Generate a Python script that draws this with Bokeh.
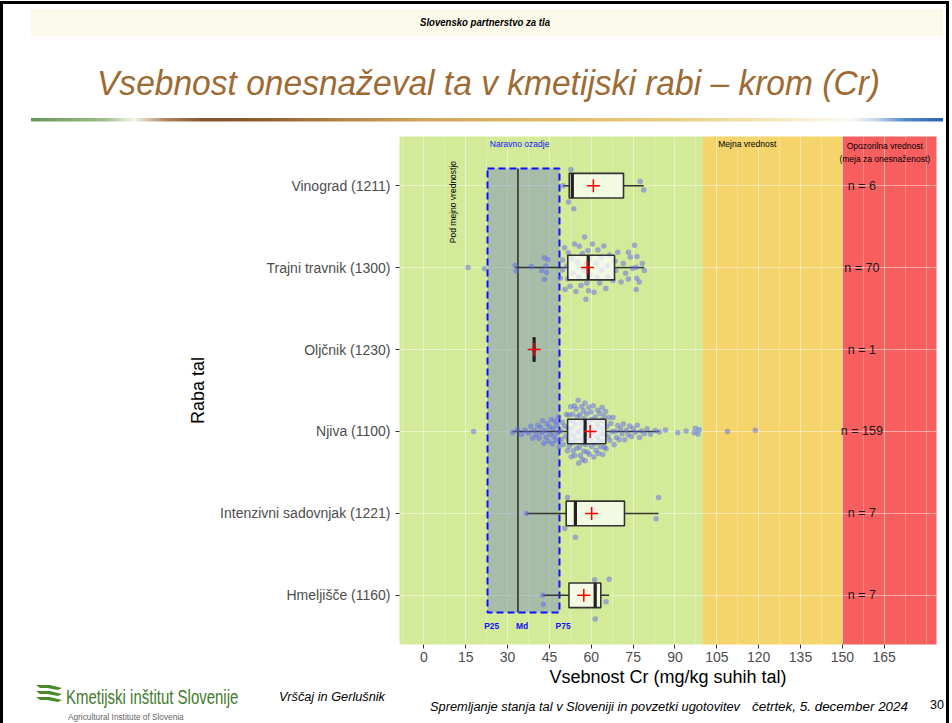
import numpy as np
from bokeh.plotting import figure
from bokeh.layouts import column, row
from bokeh.models import FixedTicker, Range1d, Div
from bokeh.core.properties import value
from bokeh.embed import file_html
from bokeh.resources import INLINE

# ---------------- data ----------------
categories = ["Hmeljišče (1160)", "Intenzivni sadovnjak (1221)", "Njiva (1100)",
              "Oljčnik (1230)", "Trajni travnik (1300)", "Vinograd (1211)"]

vals_hmeljisce = [42.6, 42.8, 61.2, 61.4, 61.5, 65.3, 66.4]
vals_sadovnjak = [36.7, 50.5, 51.5, 54.3, 60.6, 83.2, 84.1]
vals_njiva = [17.8, 31.8, 33.5, 35.0, 36.2, 37.5, 38.3, 39.0, 39.6, 40.2,
              40.8, 41.3, 41.8, 42.2, 42.6, 43.0, 43.4, 43.8, 44.2, 44.6,
              45.0, 45.3, 45.6, 46.0, 46.3, 46.6, 47.0, 47.3, 47.6, 48.0,
              48.3, 48.6, 49.0, 49.3, 49.6, 50.0, 50.4, 50.8, 51.1, 51.4,
              51.6, 51.8, 52.0, 52.1, 52.3, 52.5, 52.6, 52.8, 53.0, 53.1,
              53.3, 53.5, 53.6, 53.8, 54.0, 54.1, 54.3, 54.5, 54.6, 54.8,
              55.0, 55.1, 55.3, 55.5, 55.6, 55.8, 56.0, 56.1, 56.3, 56.5,
              56.6, 56.8, 57.0, 57.1, 57.2, 57.3, 57.4, 57.5, 57.7, 57.8,
              57.9, 58.1, 58.3, 58.5, 58.7, 58.9, 59.1, 59.3, 59.5, 59.7,
              59.9, 60.1, 60.3, 60.5, 60.7, 60.9, 61.1, 61.3, 61.5, 61.7,
              61.9, 62.1, 62.3, 62.5, 62.7, 62.9, 63.1, 63.3, 63.5, 63.7,
              63.9, 64.1, 64.3, 64.5, 64.6, 64.7, 64.8, 64.9, 65.1, 65.3,
              65.6, 66.0, 66.3, 66.7, 67.0, 67.4, 67.8, 68.2, 68.6, 69.0,
              69.5, 70.0, 70.5, 71.0, 71.5, 72.0, 72.6, 73.2, 73.8, 74.4,
              75.0, 75.8, 76.5, 77.3, 78.0, 79.0, 80.0, 81.2, 82.9, 84.4,
              86.6, 91.0, 94.0, 96.9, 97.3, 98.2, 98.7, 108.8, 118.8]
vals_oljcnik = [39.5]
vals_travnik = [15.8, 21.7, 32.7, 33.0, 38.5, 42.2, 43.2, 43.2, 43.7, 44.0,
                44.4, 48.9, 49.7, 49.7, 50.4, 50.6, 51.3, 51.5, 51.8, 52.4,
                53.0, 53.4, 54.0, 54.5, 55.0, 55.4, 55.7, 56.3, 56.8, 57.2,
                57.6, 58.1, 58.1, 58.4, 58.8, 59.0, 59.4, 59.6, 60.4, 61.0,
                61.6, 62.0, 62.4, 63.0, 63.5, 63.8, 64.5, 65.2, 65.9, 65.9,
                66.5, 67.8, 68.5, 68.8, 69.5, 70.7, 71.5, 72.3, 73.3, 73.3,
                74.0, 74.8, 75.5, 76.1, 76.1, 76.3, 76.4, 77.2, 78.3, 79.0]
vals_vinograd = [49.9, 51.9, 52.7, 53.7, 77.5, 78.8]

group_values = [vals_hmeljisce, vals_sadovnjak, vals_njiva, vals_oljcnik, vals_travnik, vals_vinograd]

# natural background (P25, Md, P75) and limit values
bg_p25, bg_md, bg_p75 = 22.8, 33.7, 48.6
bg_labels = ["P25", "Md", "P75"]
mejna_vrednost = 100
opozorilna_vrednost = 150
x_ticks = [0, 15, 30, 45, 60, 75, 90, 105, 120, 135, 150, 165]

# ---------------- helpers ----------------
def vdc(n):
    out = []
    for i in range(1, n + 1):
        v, denom, k = 0.0, 1.0, i
        while k:
            k, r = divmod(k, 2)
            denom *= 2
            v += r / denom
        out.append(v)
    return np.array(out)

def quasirandom(vals, width=0.4, adjust=0.5):
    v = np.asarray(vals, float)
    n = len(v)
    if n < 2:
        return np.zeros(n)
    sd = v.std(ddof=1)
    iqr = np.subtract(*np.percentile(v, [75, 25]))
    lo = min(sd, iqr / 1.34) if iqr > 0 else sd
    bw = 0.9 * lo * n ** (-0.2) * adjust
    grid = np.linspace(v.min() - 3 * bw, v.max() + 3 * bw, 512)
    dens = lambda x: np.exp(-0.5 * ((x[:, None] - v[None, :]) / bw) ** 2).sum(1)
    d = dens(v) / dens(grid).max()
    order = np.argsort(v, kind="stable")
    rank = np.empty(n, int)
    rank[order] = np.arange(n)
    q = vdc(n)[rank]
    return (q - 0.5) * 2 * d * width

W = 952
FONT = "Liberation Sans"
DIV_STYLE = {"margin": "0", "padding": "0", "overflow": "visible"}
BL, BR = 3, 946          # slide frame: left strip 0..3, right strip 946..949

# ---------------- header (slide decoration) ----------------
HEAD_H = 128
grad_stops = [(31, "#64965a"), (105, "#a0be8c"), (134, "#f4f4ee"), (165, "#af875f"),
              (205, "#80542d"), (250, "#875a30"), (340, "#b28448"), (420, "#cda55c"),
              (560, "#debc69"), (680, "#e8cf84"), (790, "#f6ecc8"), (850, "#fafaf6"),
              (875, "#c8d8ec"), (905, "#5587c8"), (943, "#2864b4")]
stops_svg = "".join(f'<stop offset="{(x - 31) / 912:.4f}" stop-color="{c}"/>' for x, c in grad_stops)
header_svg = f'''<svg xmlns="http://www.w3.org/2000/svg" width="{W}" height="{HEAD_H}" style="display:block">
<defs><linearGradient id="hg" gradientUnits="userSpaceOnUse" x1="31" y1="0" x2="943" y2="0">{stops_svg}</linearGradient></defs>
<rect x="0" y="1" width="{BR + 3}" height="3" fill="#000"/>
<rect x="0" y="1" width="{BL}" height="{HEAD_H}" fill="#000"/>
<rect x="{BR}" y="1" width="3" height="{HEAD_H}" fill="#000"/>
<rect x="31" y="9" width="912" height="27" fill="#fbf9e9"/>
<text x="485" y="22" font-family="Lato" font-size="10.5" font-weight="bold" font-style="italic" fill="#000" text-anchor="middle" dominant-baseline="central" textLength="130" lengthAdjust="spacingAndGlyphs">Slovensko partnerstvo za tla</text>
<text x="488.5" y="82" font-family="Lato" font-size="35" font-weight="300" font-style="italic" fill="#9e6a34" text-anchor="middle" dominant-baseline="central" textLength="783" lengthAdjust="spacingAndGlyphs">Vsebnost onesnaževal ta v kmetijski rabi – krom (Cr)</text>
<rect x="31" y="118" width="912" height="3.5" fill="url(#hg)"/>
</svg>'''
hdr = Div(text=header_svg, width=W, height=HEAD_H, styles=DIV_STYLE)

# ---------------- chart ----------------
CH_TOP, CH_BOT = HEAD_H, 690
FL, FR, FT, FB = 399, 936, 136, 644
p = figure(width=BR - BL, height=CH_BOT - CH_TOP, output_backend="svg", toolbar_location=None,
           x_range=Range1d(-8.75, 183.75), y_range=Range1d(0.4, 6.6),
           min_border_left=FL - BL, min_border_right=BR - FR, min_border_top=FT - CH_TOP,
           min_border_bottom=CH_BOT - FB)
p.outline_line_color = None
p.background_fill_color = "white"
p.border_fill_color = "white"

p.quad(left=[-50, mejna_vrednost, opozorilna_vrednost],
       right=[mejna_vrednost, opozorilna_vrednost, 300],
       bottom=-5, top=15, fill_color=["#d3eb98", "#f5d46c", "#f75f5f"],
       line_color=None, level="image")

minor = [x + 7.5 for x in [-15] + x_ticks] + [180]
p.xgrid.ticker = FixedTicker(ticks=x_ticks, minor_ticks=minor)
p.xgrid.grid_line_color = "white"
p.xgrid.grid_line_alpha = 0.45
p.xgrid.minor_grid_line_color = "white"
p.xgrid.minor_grid_line_alpha = 0.25
p.ygrid.ticker = FixedTicker(ticks=[1, 2, 3, 4, 5, 6])
p.ygrid.grid_line_color = "white"
p.ygrid.grid_line_alpha = 0.45

p.xaxis.ticker = FixedTicker(ticks=x_ticks)
p.yaxis.ticker = FixedTicker(ticks=[1, 2, 3, 4, 5, 6])
p.yaxis.major_label_overrides = {i + 1: c for i, c in enumerate(categories)}
for ax in (p.xaxis[0], p.yaxis[0]):
    ax.axis_line_color = None
    ax.major_tick_line_color = "#333333"
    ax.major_tick_out = 4
    ax.major_tick_in = 0
    ax.minor_tick_line_color = None
    ax.major_label_text_color = "#4d4d4d"
    ax.major_label_text_font = FONT
    ax.major_label_text_font_size = "14px"
    ax.axis_label_text_font = FONT
    ax.axis_label_text_font_size = "18px"
    ax.axis_label_text_font_style = "normal"
    ax.axis_label_text_color = "black"
p.xaxis.major_label_standoff = 3
p.xaxis.axis_label_standoff = 2
p.yaxis.major_label_standoff = 5
p.yaxis.axis_label_standoff = 9
p.xaxis.axis_label = "Vsebnost Cr (mg/kg suhih tal)"
p.yaxis.axis_label = "Raba tal"

# natural background box
p.quad(left=bg_p25, right=bg_p75, bottom=0.79, top=6.21, fill_color="#7c8fb8",
       fill_alpha=0.5, line_color="#1010ff", line_width=2, line_dash="7 4")
p.segment(x0=bg_md, y0=0.79, x1=bg_md, y1=6.21, line_color="#333333", line_width=1.6)

# boxplot statistics
ys = np.arange(1, len(categories) + 1)
q1s, meds, q3s, los, his, means = [], [], [], [], [], []
for v in group_values:
    a = np.asarray(v, float)
    q1, q2, q3 = np.percentile(a, [25, 50, 75])
    iqr = q3 - q1
    los.append(a[a >= q1 - 1.5 * iqr].min())
    his.append(a[a <= q3 + 1.5 * iqr].max())
    q1s.append(q1); meds.append(q2); q3s.append(q3); means.append(a.mean())

p.segment(x0=los, y0=ys, x1=q1s, y1=ys, line_color="#333333", line_width=1.5)
p.segment(x0=q3s, y0=ys, x1=his, y1=ys, line_color="#333333", line_width=1.5)

px, py = [], []
for i, v in enumerate(group_values):
    px += list(v)
    py += list(ys[i] + quasirandom(v))
p.scatter(px, py, size=5.5, fill_color="#5f68ea", fill_alpha=0.5, line_color=None)

hb = 0.15
p.quad(left=q1s, right=q3s, bottom=ys - hb, top=ys + hb, fill_color="white",
       fill_alpha=0.72, line_color="#333333", line_width=1.6)
p.segment(x0=meds, y0=ys - hb, x1=meds, y1=ys + hb, line_color="#222222", line_width=3.2)
p.scatter(means, ys, marker="cross", size=13, line_color="red", line_width=1.5)

p.text(x=157, y=ys, text=[f"n = {len(v)}" for v in group_values],
       text_font=value(FONT), text_font_size="12.5px", text_color="#1a1a1a",
       text_align="center", text_baseline="middle")

small = dict(text_font=value(FONT), text_font_size="8.5px", text_baseline="middle")
p.text(x=[bg_md + 0.6], y=[6.51], text=["Naravno ozadje"], text_color="#1010ff",
       text_align="center", **small)
p.text(x=[bg_p25 + 1.5, bg_md + 1.5, bg_p75 + 1.3], y=[0.63] * 3, text=bg_labels,
       text_color="#1010ff", text_align="center", text_font_style="bold", **small)
p.text(x=[10.5], y=[5.8], text=["Pod mejno vrednostjo"], angle=np.pi / 2,
       text_color="black", text_align="center", **small)
p.text(x=[105.5], y=[6.51], text=["Mejna vrednost"], text_color="black",
       text_align="left", **small)
p.text(x=[165.2, 165.2], y=[6.48, 6.33], text=["Opozorilna vrednost", "(meja za onesnaženost)"],
       text_color="black", text_align="center", **small)

strip = dict(text="", height=CH_BOT - CH_TOP, styles={"background-color": "#000", "margin": "0"})
mid = row(Div(width=BL, **strip), p, Div(width=3, **strip), spacing=0)

# ---------------- footer (slide decoration) ----------------
FOOT_H = 723 - CH_BOT
SHIFT = 8  # svg origin is 8px above the footer div (page y = CH_BOT - SHIFT)
def fy(y):
    return y - (CH_BOT - SHIFT)
logo = ""
for i in range(3):
    y0 = 685 + 6 * i
    pts = [(36, y0), (50, y0), (62, y0 + 3), (58, y0 + 5), (47, y0 + 3), (40, y0 + 3)]
    logo += '<polygon points="' + " ".join(f"{x},{fy(y)}" for x, y in pts) + '" fill="#4c8a2e"/>'
footer_svg = f'''<svg xmlns="http://www.w3.org/2000/svg" width="{W}" height="{FOOT_H + SHIFT}" style="display:block;margin-top:-{SHIFT}px;overflow:visible">
<rect x="0" y="{SHIFT}" width="{BL}" height="{FOOT_H}" fill="#000"/>
<rect x="{BR}" y="{SHIFT}" width="3" height="{FOOT_H}" fill="#000"/>
{logo}
<g transform="translate(66,{fy(697)}) scale(0.75,1)"><text x="0" y="0" font-family="Liberation Sans" font-size="20" fill="#3f7a2c" dominant-baseline="central">Kmetijski inštitut Slovenije</text></g>
<g transform="translate(68,{fy(717)}) scale(0.92,1)"><text x="0" y="0" font-family="Liberation Sans" font-size="9" fill="#666666" dominant-baseline="central">Agricultural Institute of Slovenia</text></g>
<text x="279" y="{fy(697)}" font-family="Lato" font-size="12" font-style="italic" fill="#000" dominant-baseline="central" textLength="106" lengthAdjust="spacingAndGlyphs">Vrščaj in Gerlušnik</text>
<text x="430" y="{fy(707)}" font-family="Lato" font-size="12" font-style="italic" fill="#000" dominant-baseline="central" textLength="310" lengthAdjust="spacingAndGlyphs">Spremljanje stanja tal v Sloveniji in povzetki ugotovitev</text>
<text x="752" y="{fy(706)}" font-family="Lato" font-size="13" font-style="italic" fill="#000" dominant-baseline="central" textLength="156" lengthAdjust="spacingAndGlyphs">četrtek, 5. december 2024</text>
<text x="930" y="{fy(705)}" font-family="Lato" font-size="12.5" fill="#000" dominant-baseline="central">30</text>
</svg>'''
ftr = Div(text=footer_svg, width=W, height=FOOT_H, styles=DIV_STYLE)

layout = column(hdr, mid, ftr, spacing=0)
with open("out.html", "w", encoding="utf-8") as fh:
    fh.write(file_html(layout, INLINE))
